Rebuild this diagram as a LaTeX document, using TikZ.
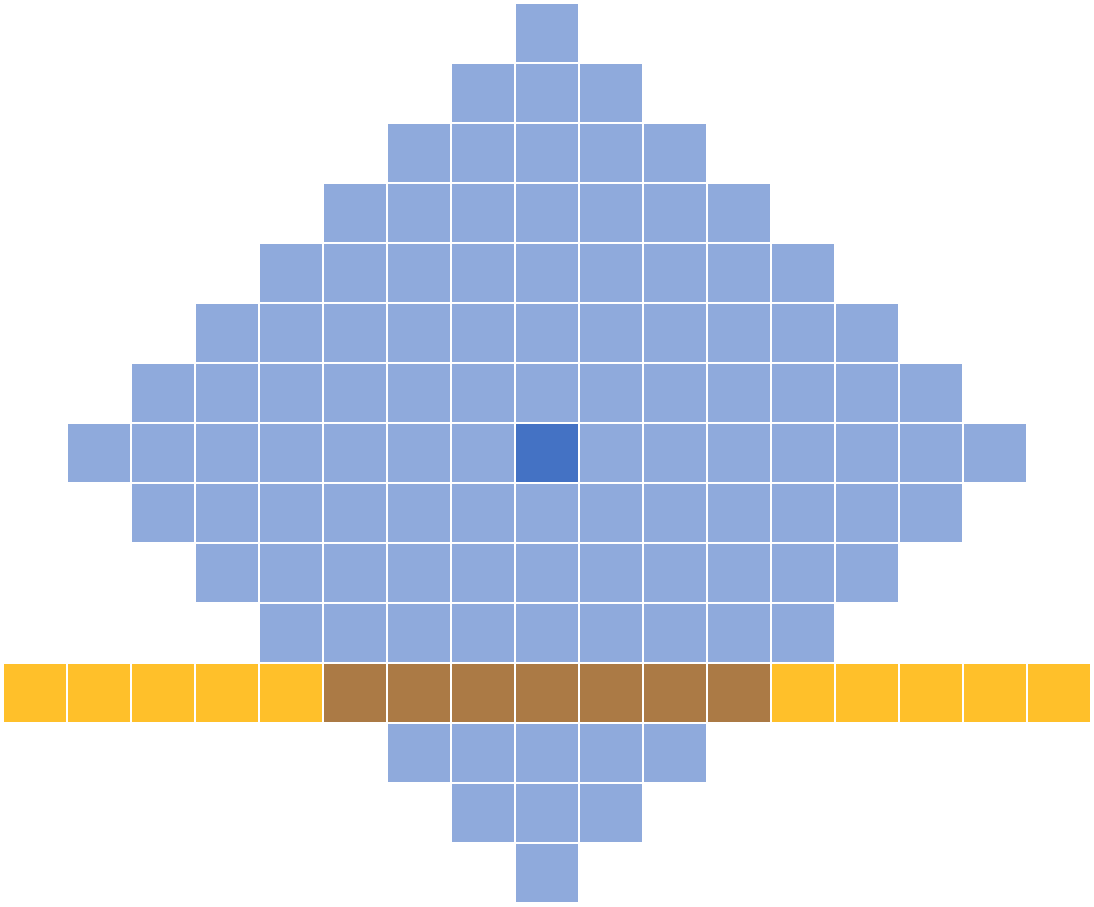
\documentclass[tikz,border=0pt]{standalone}
\definecolor{lblue}{HTML}{8FAADC}
\definecolor{dblue}{HTML}{4472C4}
\definecolor{goldcell}{HTML}{FFC02A}
\definecolor{browncell}{HTML}{AB7A45}
\begin{document}
\begin{tikzpicture}[x=0.02cm,y=-0.02cm]
\useasboundingbox (0,0) rectangle (1094,906);
% diamond rows
\foreach \r in {0,...,14}{
  \ifnum\r=11\relax\else
  \pgfmathtruncatemacro{\h}{7-abs(\r-7)}
  \foreach \c in {-\h,...,\h}{
    \fill[lblue] ({516+64*\c},{4+60*\r}) rectangle ++(62,58);
  }
  \fi
}
% centre cell
\fill[dblue] (516,424) rectangle ++(62,58);
% bar row
\foreach \c in {-8,...,-4,4,5,6,7,8}{
  \fill[goldcell] ({516+64*\c},664) rectangle ++(62,58);
}
\foreach \c in {-3,...,3}{
  \fill[browncell] ({516+64*\c},664) rectangle ++(62,58);
}
\end{tikzpicture}
\end{document}
